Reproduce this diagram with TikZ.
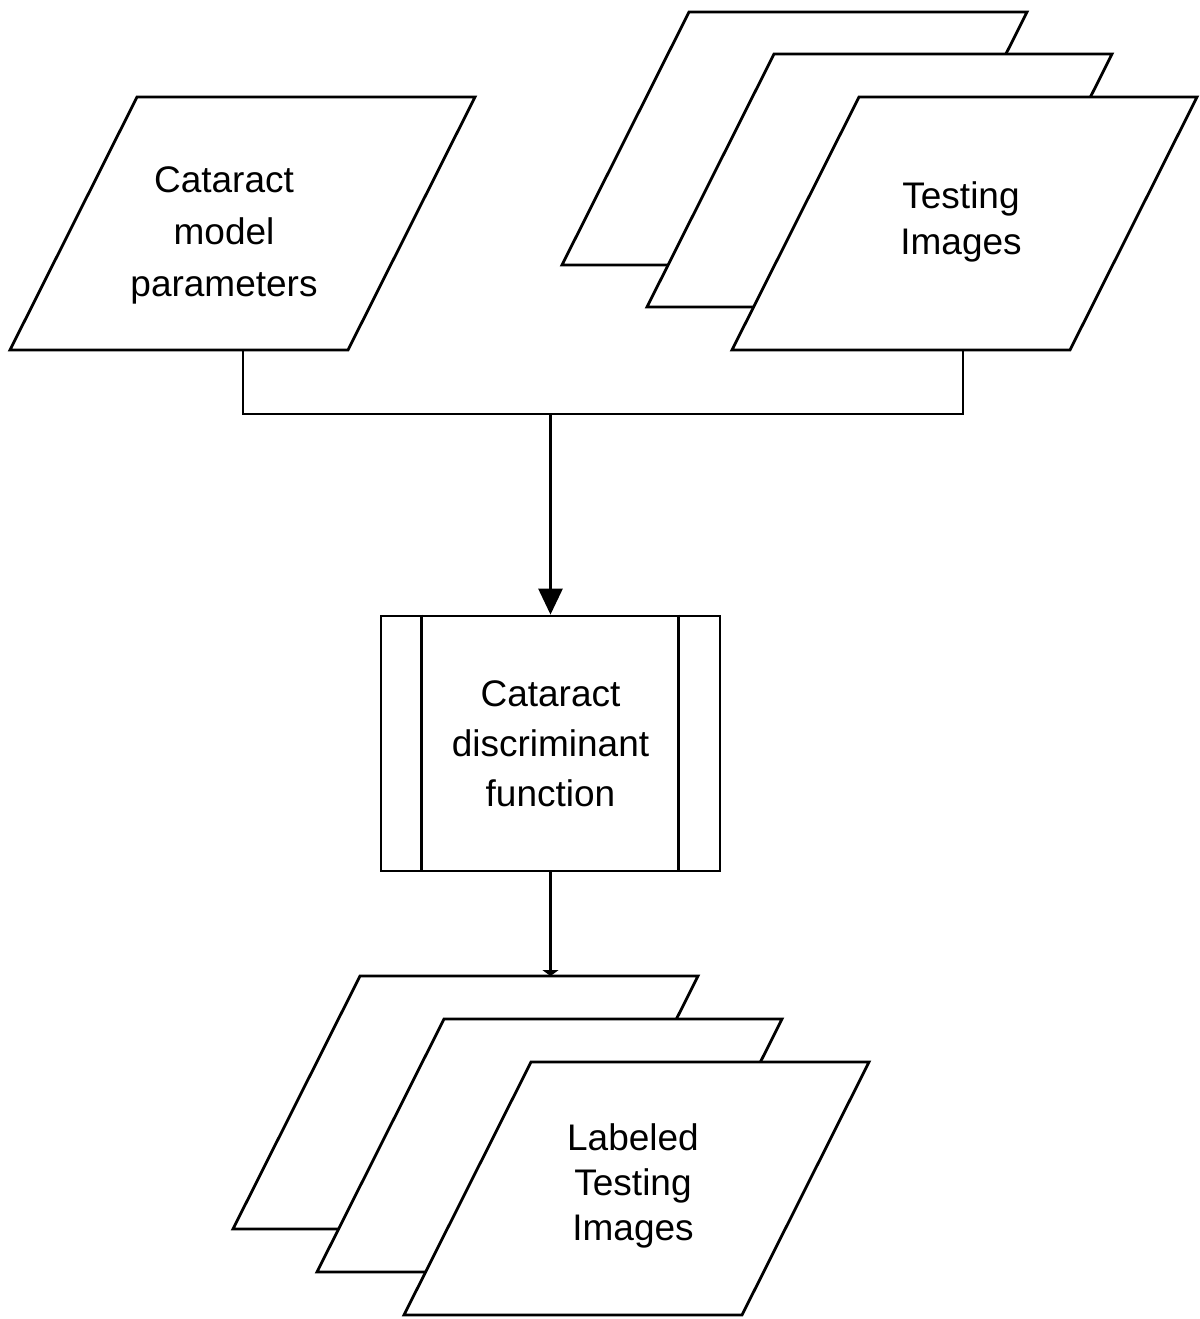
\documentclass[tikz,border=0pt]{standalone}
\usepackage{fontspec}
\setmainfont{Liberation Sans}
\usetikzlibrary{arrows.meta}
\newcommand\parasheet[2]{\draw[sheet] (#1,#2) -- ++(338,0) -- ++(-127,253) -- ++(-338,0) -- cycle;}
\begin{document}
\begin{tikzpicture}[x=0.5pt,y=-0.5pt,
  sheet/.style={draw=black,fill=white,line width=1.4pt,line join=miter},
  conn/.style={draw=black,line width=1.4pt},
  procbox/.style={draw=black,fill=white,line width=1.4pt,minimum width=169.5pt,minimum height=127.5pt,inner sep=0pt,align=center,font=\fontsize{18.5pt}{25pt}\selectfont},
  txt/.style={align=center,inner sep=0pt}]
\useasboundingbox (0,0) rectangle (1200,1319);
% left input
\parasheet{137}{97}
\node[txt,font=\fontsize{18.5pt}{26pt}\selectfont] (cmp) at (224,235) {Cataract\\model\\parameters};
% testing images stack
\parasheet{689}{12}
\parasheet{774}{54}
\parasheet{859}{97}
\node[txt,font=\fontsize{18.5pt}{23pt}\selectfont] (ti) at (961,222) {Testing\\Images};
% process
\node[procbox] (cdf) at (550.5,743.5) {Cataract\\discriminant\\function};
\draw[conn] ([xshift=21pt]cdf.north west) -- ([xshift=21pt]cdf.south west);
\draw[conn] ([xshift=-21.5pt]cdf.north east) -- ([xshift=-21.5pt]cdf.south east);
% connectors
\coordinate (cmpB) at (243,350);
\coordinate (tiB) at (963,350);
\coordinate (j) at (cdf.north |- 0,414);
\draw[conn] (cmpB) -- (cmpB |- j) -- (tiB |- j) -- (tiB);
\draw[conn,-{Triangle[width=12pt,length=13pt]}] (j) -- (cdf.north);
% output stack
\parasheet{360}{976}
\parasheet{444}{1019}
\parasheet{531}{1062}
\node[txt,font=\fontsize{18.5pt}{22.5pt}\selectfont] (lti) at (633,1186) {Labeled\\Testing\\Images};
\coordinate (lt) at (cdf.south |- 0,976);
\draw[conn,-{Triangle[width=8pt,length=3pt]}] (cdf.south) -- (lt);
\end{tikzpicture}
\end{document}
